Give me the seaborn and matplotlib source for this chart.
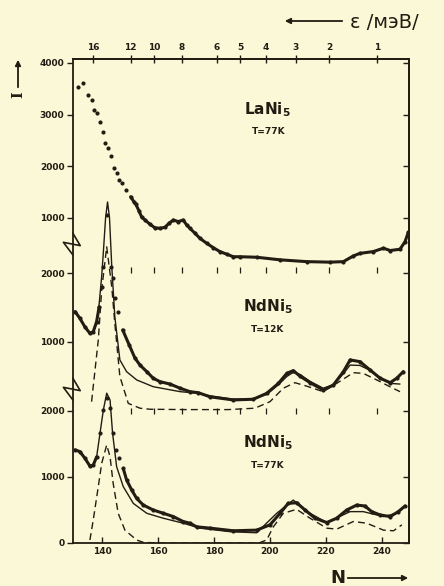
import matplotlib
matplotlib.use('Agg')
import matplotlib.pyplot as plt
import matplotlib.transforms as mtransforms
from matplotlib.patches import FancyArrowPatch
import numpy as np
import seaborn as sns

# --- data: channel N and counts I of each panel ---
# LaNi5, T=77K (top panel, dots only)
top_N = [131.5, 133.3, 135.1, 136.3, 137.1, 138.1, 139.3, 140.25, 141.2, 142.25,
         143.2, 144.3, 145.25, 146.2, 147.25, 148.6, 150.25, 151.4, 152.1, 153.2,
         154.2, 155.4, 157.1, 158.9, 160.7, 162.5, 164, 165.5, 167.25, 169,
         170.25, 171.4, 173.2, 175, 177.4, 179.75, 182.1, 184.5, 186.9, 189.3,
         195.25, 203.6, 213.1, 221.4, 226.2, 229.75, 232.1, 236.9, 240.5, 242.9,
         246.4, 248.2, 249.4]
top_I = [3540, 3605, 3380, 3280, 3090, 3030, 2860, 2660, 2455, 2360,
         2200, 1975, 1870, 1735, 1675, 1540, 1410, 1315, 1265, 1140,
         1015, 960, 880, 810, 800, 820, 900, 960, 930, 960,
         865, 800, 705, 605, 510, 425, 350, 300, 250, 250,
         240, 190, 155, 145, 155, 265, 315, 350, 415, 370,
         395, 540, 725]

# NdNi5, T=12K (middle panel)
mid_N = [130.4, 132.1, 133.9, 135.7, 136.9, 138.1, 139.0, 139.9, 140.5, 141.9,
         143.1, 143.8, 144.6, 145.8, 147.4, 149.75, 151.8, 153.6, 156.0, 158.3,
         160.7, 164.3, 167.9, 171.4, 174.4, 178.6, 186.9, 194.0, 198.8, 203.0,
         206.0, 208.3, 210.7, 214.3, 219.0, 222.6, 226.2, 228.6, 232.1, 235.7,
         239.3, 242.9, 245.25, 247.6]
mid_I = [1440, 1345, 1220, 1125, 1150, 1295, 1510, 1800, 2090, 2840,
         2090, 1925, 1635, 1440, 1175, 955, 765, 665, 570, 475,
         425, 390, 330, 280, 265, 205, 160, 170, 255, 400,
         545, 585, 505, 410, 305, 375, 570, 740, 715, 595,
         475, 410, 475, 570]
midfit_N = [130.4, 132.1, 133.9, 135.7, 136.9, 138.1, 139.0, 139.9, 140.5, 141.3,
            142.0, 142.7, 143.5, 144.6, 146.4, 148.8, 152.4, 158.3, 167.9, 174.4,
            178.6, 186.9, 194.0, 198.8, 203.0, 206.0, 208.3, 210.7, 214.3, 219.0,
            222.6, 226.2, 228.6, 232.1, 235.7, 239.3, 242.9, 246.4]
midfit_I = [1440, 1345, 1220, 1125, 1140, 1280, 1550, 1950, 2300, 2800,
            3030, 2800, 2100, 1366, 740, 570, 450, 352, 280, 256,
            220, 170, 175, 240, 380, 500, 560, 530, 430, 330,
            380, 540, 665, 660, 590, 480, 400, 390]
middash_N = [136.3, 138.7, 139.9, 141.7, 143.5, 144.6, 146.4, 149.4, 153.6, 157.1,
             170, 185, 194.6, 200, 204.75, 208.9, 213.1, 219, 223.8, 229.75,
             233.3, 238.1, 242.9, 246.4]
middash_I = [135, 1030, 1755, 2380, 1800, 1270, 500, 110, 40, 25,
             20, 20, 40, 135, 330, 410, 360, 280, 400, 555,
             545, 450, 350, 280]

# NdNi5, T=77K (bottom panel)
bot_N = [130.4, 132.1, 133.9, 135.7, 136.9, 138.1, 139.3, 140.5, 141.7, 142.9,
         144.0, 145.0, 146.2, 147.6, 148.8, 150.6, 152.4, 154.75, 158.3, 161.9,
         165.5, 169.0, 171.4, 173.8, 178.6, 186.9, 195.25, 200, 203.6, 206.5,
         209.5, 212.5, 216.1, 220.25, 223.8, 227.4, 231, 233.9, 236.3, 239.3,
         242.9, 245.8, 248.2]
bot_I = [1410, 1385, 1285, 1165, 1180, 1305, 1660, 2015, 2190, 2040,
         1660, 1410, 1285, 1130, 955, 805, 675, 575, 500, 450,
         400, 325, 300, 245, 225, 185, 195, 275, 450, 600,
         610, 500, 375, 310, 375, 500, 575, 560, 475, 425,
         400, 475, 560]
botfit_N = [130.4, 132.1, 133.9, 135.7, 136.9, 138.1, 139.3, 140.5, 141.7, 142.9,
            143.8, 145.25, 147.6, 151.2, 156, 161.9, 169, 175, 186, 195.25,
            202.4, 208.3, 214.3, 220.25, 228.6, 233.3, 240.5, 245.25, 248.2]
botfit_I = [1410, 1385, 1285, 1165, 1180, 1305, 1660, 2015, 2270, 2165,
            1660, 1155, 855, 600, 450, 375, 300, 225, 170, 155,
            450, 650, 450, 310, 475, 475, 400, 450, 550]
botdash_N = [135.7, 136.9, 138.7, 139.9, 141.7, 142.9, 144.0, 145.8, 148.2, 152.4,
             154.75, 160, 196, 198.8, 201.2, 204.75, 209.5, 214.3, 220.25, 223.8,
             229.75, 234.5, 240.5, 244.1, 247.1]
botdash_I = [45, 350, 855, 1205, 1485, 1305, 905, 450, 195, 45,
             10, 0, 0, 45, 245, 450, 510, 375, 225, 210,
             325, 300, 195, 185, 275]

# top axis: energy in meV and the channel it sits on
eps_labels = ['16', '12', '10', '8', '6', '5', '4', '3', '2', '1']
eps_N = [136.8, 150.2, 158.7, 168.6, 181.0, 189.4, 198.6, 209.2, 221.2, 238.2]

# left axis tick values of each panel
bot_ticks = [0, 1000, 2000]
mid_ticks = [1000, 2000]
top_ticks = [1000, 2000, 3000, 4000]
x_ticks = [140, 160, 180, 200, 220, 240]

# panel stacking on the common y axis (offset, scale)
OFF_BOT, K_BOT = 0, 1.0
OFF_MID, K_MID = 2000, 1.045
OFF_TOP, K_TOP = 4141, 0.783

ink = '#241b12'
paper = '#fbf8d8'

sns.set_style('ticks')
plt.rcParams['font.family'] = ['DejaVu Sans']
plt.rcParams['font.weight'] = 'bold'

fig = plt.figure(figsize=(4.44, 5.86), dpi=100, facecolor=paper)
ax = fig.add_axes([0.164, 0.0734, 0.757, 0.826])
ax.set_facecolor(paper)


def lift(vals, off, k):
    return off + k * np.asarray(vals, dtype=float)


def dots(n, i, off, k, dense_from=None, dense_to=None):
    n = np.asarray(n, dtype=float)
    y = lift(i, off, k)
    sns.scatterplot(x=n, y=y, ax=ax, s=9, color=ink, linewidth=0, legend=False)
    # where the scan points are packed they merge into a thick band
    if dense_to is not None:
        m = n <= dense_to
        sns.lineplot(x=n[m], y=y[m], ax=ax, color=ink, lw=2.2, estimator=None)
    if dense_from is not None:
        m = n >= dense_from
        sns.lineplot(x=n[m], y=y[m], ax=ax, color=ink, lw=2.2, estimator=None)


def curve(n, i, off, k, dashed=False):
    sns.lineplot(x=n, y=lift(i, off, k), ax=ax, color=ink, estimator=None,
                 lw=1.0, linestyle=(0, (5, 3)) if dashed else '-')


# top: LaNi5
dots(top_N, top_I, OFF_TOP, K_TOP, dense_from=150)
# middle: NdNi5 12K
dots(mid_N, mid_I, OFF_MID, K_MID, dense_from=147, dense_to=139)
curve(midfit_N, midfit_I, OFF_MID, K_MID)
curve(middash_N, middash_I, OFF_MID, K_MID, dashed=True)
# bottom: NdNi5 77K
dots(bot_N, bot_I, OFF_BOT, K_BOT, dense_from=147, dense_to=139)
curve(botfit_N, botfit_I, OFF_BOT, K_BOT)
curve(botdash_N, botdash_I, OFF_BOT, K_BOT, dashed=True)

# zero lines of the upper panels, marked at the energy ticks
for off in (OFF_TOP, OFF_MID):
    ax.plot(eps_N[1:], [off] * (len(eps_N) - 1), ls='none', marker='|',
            ms=4, mew=0.9, color=ink)

ax.set_xlim(129.6, 249.6)
ax.set_ylim(0, 7333)
ax.set_xlabel('')
ax.set_ylabel('')

yt = list(lift(bot_ticks, OFF_BOT, K_BOT)) + list(lift(mid_ticks, OFF_MID, K_MID)) \
    + list(lift(top_ticks, OFF_TOP, K_TOP))
ylab = [str(v) for v in bot_ticks + mid_ticks + top_ticks]
ax.set_yticks(yt, labels=ylab)
ax.set_xticks(x_ticks, labels=[str(v) for v in x_ticks])
ax.tick_params(axis='y', direction='out', length=4, width=1,
               labelsize=6.5, colors=ink, pad=2)
ax.tick_params(axis='x', direction='in', length=4, width=1, labelsize=6.5,
               colors=ink, pad=3)
for sp in ax.spines.values():
    sp.set_visible(True)
    sp.set_color(ink)
    sp.set_linewidth(1.3)
for t in ax.get_yticklabels() + ax.get_xticklabels():
    t.set_fontweight('bold')

# right side: inward ticks, no labels
rsec = ax.secondary_yaxis('right')
rsec.set_yticks(yt, labels=[''] * len(yt))
rsec.tick_params(direction='in', length=4, width=1, colors=ink)
rsec.spines['right'].set_color(ink)
rsec.spines['right'].set_linewidth(1.3)

sec = ax.secondary_xaxis('top')
sec.set_xticks(eps_N, labels=eps_labels)
sec.tick_params(direction='inout', length=6, width=1, labelsize=6.5, colors=ink, pad=2)
for t in sec.get_xticklabels():
    t.set_fontweight('bold')
sec.spines['top'].set_color(ink)
sec.spines['top'].set_linewidth(1.3)

# breaks of the intensity axis
br = mtransforms.blended_transform_factory(ax.transAxes, ax.transData)
for yb in (2318, 4515):
    ax.plot([0.0, -0.028, 0.022, 0.0], [yb - 150, yb + 40, yb - 10, yb + 180],
            transform=br, color=ink, lw=1.2, clip_on=False)


def px(x, y):
    return x / 444, 1 - y / 586


# panel labels
for (x, y), name, temp in [((244, 110), 'LaNi$_5$', 'T=77K'),
                           ((243, 307), 'NdNi$_5$', 'T=12K'),
                           ((243, 443), 'NdNi$_5$', 'T=77K')]:
    fig.text(*px(x, y), name, fontsize=11, fontweight='bold', color=ink,
             va='center', ha='left')
    fig.text(*px(x + 8, y + 22), temp, fontsize=6.5, fontweight='bold',
             color=ink, va='center', ha='left')

# axis captions with arrows
fig.text(*px(350, 22), 'ε /мэВ/', fontsize=14, color=ink, va='center', ha='left',
         fontweight='normal')
fig.add_artist(FancyArrowPatch(px(345, 21), px(282, 21), transform=fig.transFigure,
                               arrowstyle='-|>', mutation_scale=8, color=ink, lw=1.3))
fig.text(*px(330, 578), 'N', fontsize=13, fontweight='bold', color=ink,
         va='center', ha='left')
fig.add_artist(FancyArrowPatch(px(345, 578), px(411, 578), transform=fig.transFigure,
                               arrowstyle='-|>', mutation_scale=8, color=ink, lw=1.3))
fig.add_artist(FancyArrowPatch(px(18, 90), px(18, 57), transform=fig.transFigure,
                               arrowstyle='-|>', mutation_scale=8, color=ink, lw=1.3))
fig.text(*px(18, 95), 'I', fontsize=10, family='DejaVu Serif', rotation=90,
         color=ink, va='center', ha='center')

fig.savefig('out.png', dpi=100, facecolor=paper)
